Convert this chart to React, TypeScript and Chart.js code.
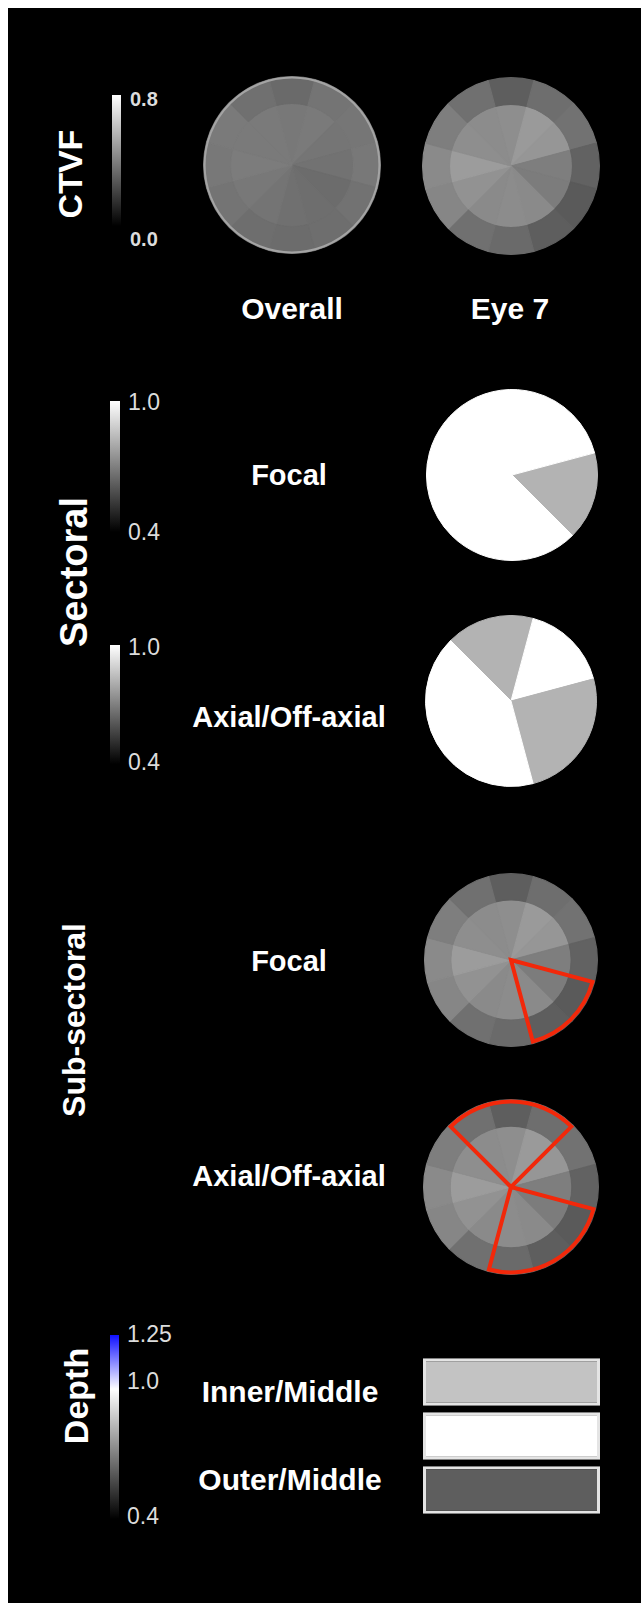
import React, { useEffect, useRef } from 'react';
import { Chart, registerables } from 'chart.js';

Chart.register(...registerables);

// ---------- DATA ----------
// 12 clock sectors, index 0 = 12 o'clock, clockwise; each sector spans 30 degrees
const clockSectors = ['12', '1', '2', '3', '4', '5', '6', '7', '8', '9', '10', '11'];

const ctvfRange = [0.0, 0.8];
const ctvfTicks = ['0.8', '0.0'];

const overallOuter = [0.333, 0.364, 0.370, 0.376, 0.358, 0.345, 0.339, 0.345, 0.364, 0.376, 0.383, 0.351];
const overallInner = [0.376, 0.383, 0.367, 0.358, 0.339, 0.345, 0.351, 0.364, 0.376, 0.389, 0.383, 0.383];

const eye7Outer = [0.295, 0.345, 0.358, 0.307, 0.282, 0.295, 0.333, 0.351, 0.420, 0.433, 0.395, 0.351];
const eye7Inner = [0.445, 0.483, 0.471, 0.395, 0.389, 0.433, 0.439, 0.433, 0.458, 0.489, 0.445, 0.439];

const sectoralRange = [0.4, 1.0];
const sectoralTicks = ['1.0', '0.4'];

// sectoral pies: spans in degrees, clockwise from the start angle
const focalStart = 75;
const focalSpans = [60, 300];
const focalValues = [0.82, 1.0];

const axialStart = -45;
const axialSpans = [60, 60, 90, 150];
const axialValues = [0.82, 1.0, 0.82, 1.0];

// sub-sectoral highlights (groups of clock sectors)
const focalHighlight = [[4, 5]];
const axialHighlight = [[11, 0, 1], [4, 5, 6]];

const depthRange = [0.4, 1.25];
const depthTicks = ['1.25', '1.0', '0.4'];
const depthLabels = ['Inner/Middle', 'Middle', 'Outer/Middle'];
const depthRatios = [0.86, 1.0, 0.62];

// ---------- COLOUR MAPS ----------
const grey = (t: number) => {
  const g = Math.round(Math.max(0, Math.min(1, t)) * 255);
  return `rgb(${g},${g},${g})`;
};
const ctvfColor = (v: number) => grey((v - ctvfRange[0]) / (ctvfRange[1] - ctvfRange[0]));
const sectoralColor = (v: number) => grey((v - sectoralRange[0]) / (sectoralRange[1] - sectoralRange[0]));
const depthColor = (v: number) => {
  if (v <= 1) return grey((v - depthRange[0]) / (1 - depthRange[0]));
  const t = Math.min(1, (v - 1) / (depthRange[1] - 1));
  const c = Math.round(255 * (1 - t));
  return `rgb(${c},${c},255)`;
};

const FONT = '"Liberation Sans", Arial, Helvetica, sans-serif';
const OX = 8;
const OY = 8;

// ---------- PLUGIN ----------
const outlinePlugin = {
  id: 'sectorOutline',
  afterDatasetsDraw(chart: any, _args: any, opts: any) {
    const meta = chart.getDatasetMeta(0);
    if (!meta || !meta.data.length) return;
    const ctx = chart.ctx;
    const a0 = meta.data[0];
    const { x, y, outerRadius } = a0.getProps(['x', 'y', 'outerRadius'], true);
    ctx.save();
    if (opts && opts.rim) {
      ctx.strokeStyle = opts.rim;
      ctx.lineWidth = 2;
      ctx.beginPath();
      ctx.arc(x, y, outerRadius - 1, 0, Math.PI * 2);
      ctx.stroke();
    }
    const groups: number[][] = (opts && opts.groups) || [];
    groups.forEach((g) => {
      const first = meta.data[g[0]];
      const last = meta.data[g[g.length - 1]];
      const s = first.getProps(['startAngle'], true).startAngle;
      let e = last.getProps(['endAngle'], true).endAngle;
      if (e < s) e += Math.PI * 2;
      const lw = 4;
      ctx.strokeStyle = '#f2280a';
      ctx.lineWidth = lw;
      ctx.lineJoin = 'miter';
      ctx.beginPath();
      ctx.moveTo(x, y);
      ctx.arc(x, y, outerRadius - lw / 2, s, e);
      ctx.closePath();
      ctx.stroke();
    });
    ctx.restore();
  },
};

// ---------- COMPONENTS ----------
function ChartCanvas({ left, top, width, height, config }: any) {
  const ref = useRef<HTMLCanvasElement>(null);
  useEffect(() => {
    const chart = new Chart(ref.current as HTMLCanvasElement, config);
    return () => chart.destroy();
  }, []);
  return (
    <canvas
      ref={ref}
      width={width}
      height={height}
      style={{ position: 'absolute', left: left - OX, top: top - OY, width, height, filter: 'blur(0.6px)' }}
    />
  );
}

const baseOptions = {
  responsive: false,
  animation: false,
  devicePixelRatio: 1,
  events: [],
  layout: { padding: 0 },
  plugins: { legend: { display: false }, tooltip: { enabled: false } },
};

function RingChart({ cx, cy, r, outer, inner, rim, groups }: any) {
  const config = {
    type: 'doughnut',
    data: {
      labels: clockSectors,
      datasets: [
        {
          data: outer.map(() => 1),
          backgroundColor: outer.map(ctvfColor),
          borderColor: outer.map(ctvfColor),
          borderWidth: 1.2,
          hoverOffset: 0,
          weight: 27,
        },
        {
          data: inner.map(() => 1),
          backgroundColor: inner.map(ctvfColor),
          borderColor: inner.map(ctvfColor),
          borderWidth: 1.2,
          hoverOffset: 0,
          weight: 62,
        },
      ],
    },
    options: {
      ...baseOptions,
      rotation: -15,
      cutout: 0,
      plugins: { ...baseOptions.plugins, sectorOutline: { rim, groups } },
    },
    plugins: [outlinePlugin],
  };
  return <ChartCanvas left={cx - r} top={cy - r} width={2 * r} height={2 * r} config={config} />;
}

function SectorPie({ cx, cy, r, start, spans, values }: any) {
  const config = {
    type: 'pie',
    data: {
      labels: spans.map((_: number, i: number) => `S${i + 1}`),
      datasets: [
        {
          data: spans,
          backgroundColor: values.map(sectoralColor),
          borderColor: values.map(sectoralColor),
          borderWidth: 1,
          hoverOffset: 0,
        },
      ],
    },
    options: { ...baseOptions, rotation: start },
  };
  return <ChartCanvas left={cx - r} top={cy - r} width={2 * r} height={2 * r} config={config} />;
}

function DepthBars() {
  const config = {
    type: 'bar',
    data: {
      labels: depthLabels,
      datasets: [
        {
          data: depthRatios.map(() => 1),
          backgroundColor: depthRatios.map(depthColor),
          borderColor: '#e4e4e4',
          borderWidth: 3,
          borderSkipped: false,
          barPercentage: 0.88,
          categoryPercentage: 1,
        },
      ],
    },
    options: {
      ...baseOptions,
      indexAxis: 'y',
      scales: {
        x: { display: false, min: 0, max: 1 },
        y: { display: false },
      },
    },
  };
  return <ChartCanvas left={423} top={1355} width={177} height={162} config={config} />;
}

function Text({ x, y, size, text, rotate, color = '#fff', align = 'center', weight = 700 }: any) {
  const tx = align === 'center' ? '-50%' : '0';
  return (
    <div
      style={{
        position: 'absolute',
        left: x - OX,
        top: y - OY,
        transform: `translate(${tx},-50%)${rotate ? ' rotate(-90deg)' : ''}`,
        fontFamily: FONT,
        fontWeight: weight,
        fontSize: size,
        lineHeight: 1,
        color,
        whiteSpace: 'nowrap',
      }}
    >
      {text}
    </div>
  );
}

function ColorBar({ x, y0, y1, w, gradient }: any) {
  return (
    <div
      style={{
        position: 'absolute',
        left: x - OX,
        top: y0 - OY,
        width: w,
        height: y1 - y0,
        background: gradient,
        filter: 'blur(0.6px)',
      }}
    />
  );
}

const greyGrad = 'linear-gradient(to bottom, #ffffff 0%, #000000 100%)';
const depthGrad = `linear-gradient(to bottom, #1010ff 0%, #ffffff ${(((depthRange[1] - 1) / (depthRange[1] - depthRange[0])) * 100).toFixed(1)}%, #000000 100%)`;

export default function App() {
  const tickColor = '#dcdcdc';
  return (
    <div
      style={{
        position: 'absolute',
        left: OX,
        top: OY,
        width: 641 - OX,
        height: 1603 - OY,
        background: '#000',
        overflow: 'hidden',
      }}
    >
      {/* CTVF */}
      <Text x={70} y={174} size={34} text="CTVF" rotate />
      <ColorBar x={112} y0={95} y1={226} w={9} gradient={greyGrad} />
      <Text x={130} y={99} size={20} text={ctvfTicks[0]} align="left" color={tickColor} />
      <Text x={130} y={239} size={20} text={ctvfTicks[1]} align="left" color={tickColor} />
      <RingChart cx={292} cy={165} r={89} outer={overallOuter} inner={overallInner} rim="#a4a4a4" />
      <RingChart cx={511} cy={166} r={89} outer={eye7Outer} inner={eye7Inner} />
      <Text x={292} y={309} size={30} text="Overall" />
      <Text x={510} y={309} size={30} text="Eye 7" />

      {/* Sectoral */}
      <Text x={74} y={572} size={38} text="Sectoral" rotate />
      <ColorBar x={110} y0={401} y1={532} w={10} gradient={greyGrad} />
      <Text x={128} y={402} size={23} weight={400} text={sectoralTicks[0]} align="left" color={tickColor} />
      <Text x={128} y={532} size={23} weight={400} text={sectoralTicks[1]} align="left" color={tickColor} />
      <ColorBar x={110} y0={645} y1={764} w={10} gradient={greyGrad} />
      <Text x={128} y={647} size={23} weight={400} text={sectoralTicks[0]} align="left" color={tickColor} />
      <Text x={128} y={762} size={23} weight={400} text={sectoralTicks[1]} align="left" color={tickColor} />
      <Text x={289} y={475} size={29} text="Focal" />
      <Text x={289} y={717} size={29} text="Axial/Off-axial" />
      <SectorPie cx={512} cy={475} r={86} start={focalStart} spans={focalSpans} values={focalValues} />
      <SectorPie cx={511} cy={701} r={86} start={axialStart} spans={axialSpans} values={axialValues} />

      {/* Sub-sectoral */}
      <Text x={74} y={1020} size={32} text="Sub-sectoral" rotate />
      <Text x={289} y={961} size={29} text="Focal" />
      <Text x={289} y={1176} size={29} text="Axial/Off-axial" />
      <RingChart cx={511} cy={960} r={87} outer={eye7Outer} inner={eye7Inner} groups={focalHighlight} />
      <RingChart cx={511} cy={1187} r={88} outer={eye7Outer} inner={eye7Inner} groups={axialHighlight} />

      {/* Depth */}
      <Text x={76} y={1396} size={34} text="Depth" rotate />
      <ColorBar x={110} y0={1335} y1={1519} w={9} gradient={depthGrad} />
      <Text x={127} y={1334} size={23} weight={400} text={depthTicks[0]} align="left" color={tickColor} />
      <Text x={127} y={1381} size={23} weight={400} text={depthTicks[1]} align="left" color={tickColor} />
      <Text x={127} y={1516} size={23} weight={400} text={depthTicks[2]} align="left" color={tickColor} />
      <Text x={290} y={1392} size={30} text={depthLabels[0]} />
      <Text x={290} y={1480} size={30} text={depthLabels[2]} />
      <DepthBars />
    </div>
  );
}
